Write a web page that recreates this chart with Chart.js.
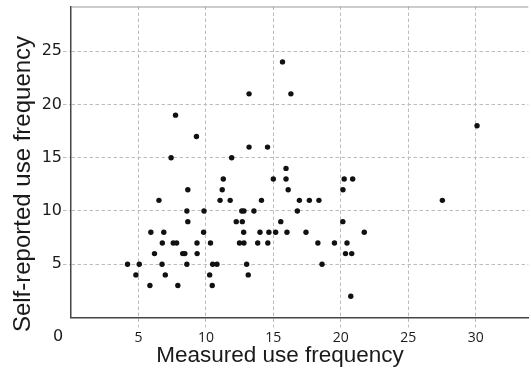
<!DOCTYPE html>
<html>
<head>
<meta charset="utf-8">
<script src="https://cdn.jsdelivr.net/npm/chart.js@4.4.1/dist/chart.umd.min.js"></script>
<style>
  html, body { margin: 0; padding: 0; background: #fff; }
  #wrap { width: 531px; height: 371px; position: relative; }
</style>
</head>
<body>
<div id="wrap"><canvas id="c"></canvas></div>
<script>
// Measured vs self-reported use frequency — one point per person
const measured = [
    20.74,
    5.85, 7.92, 10.47,
    4.81, 6.99, 10.28, 13.14,
    4.19, 5.06, 6.75, 8.59, 10.5, 10.82, 13.02, 18.61,
    6.19, 8.28, 8.44, 9.35, 20.35, 20.81,
    6.77, 7.58, 7.83, 9.34, 10.34, 12.49, 12.82, 13.84, 14.59, 18.3, 19.53, 20.46,
    5.92, 6.88, 9.83, 12.8, 14.01, 14.67, 15.17, 16.01, 17.42, 21.74,
    8.66, 12.25, 12.7, 15.55, 20.15,
    8.59, 9.86, 12.66, 12.82, 13.56, 16.78,
    6.52, 11.05, 11.8, 14.12, 16.93, 17.67, 18.38, 27.53,
    8.66, 11.21, 16.1, 20.16,
    11.29, 15.0, 15.94, 20.25, 20.88,
    15.94,
    7.42, 11.91,
    13.2, 14.57,
    9.3,
    30.1,
    7.75,
    13.2, 16.3,
    15.68
];
const selfReported = [
    2,
    3, 3, 3,
    4, 4, 4, 4,
    5, 5, 5, 5, 5, 5, 5, 5,
    6, 6, 6, 6, 6, 6,
    7, 7, 7, 7, 7, 7, 7, 7, 7, 7, 7, 7,
    8, 8, 8, 8, 8, 8, 8, 8, 8, 8,
    9, 9, 9, 9, 9,
    10, 10, 10, 10, 10, 10,
    11, 11, 11, 11, 11, 11, 11, 11,
    12, 12, 12, 12,
    13, 13, 13, 13, 13,
    14,
    15, 15,
    16, 16,
    17,
    18,
    19,
    21, 21,
    24
];
const xTicks = [5, 10, 15, 20, 25, 30];
const yTicks = [5, 10, 15, 20, 25];
const xTitle = 'Measured use frequency';
const yTitle = 'Self-reported use frequency';
const originLabel = '0';

const points = measured.map((x, i) => ({ x: x, y: selfReported[i] }));

const dash = [3.5, 2.5];

// top frame line, axis titles and the shared "0" at the corner
const decor = {
    id: 'decor',
    beforeDatasetsDraw(chart) {
        const { ctx, chartArea: a } = chart;
        ctx.save();
        ctx.strokeStyle = '#999';
        ctx.lineWidth = 1;
        ctx.beginPath();
        ctx.moveTo(a.left, a.top + 0.5);
        ctx.lineTo(a.right, a.top + 0.5);
        ctx.stroke();
        ctx.restore();
    },
    afterDraw(chart) {
        const { ctx, chartArea: a } = chart;
        ctx.save();
        ctx.fillStyle = '#1a1a1a';
        ctx.textAlign = 'center';
        ctx.textBaseline = 'middle';

        ctx.font = '16px "DejaVu Sans"';
        ctx.fillText(originLabel, a.left - 13, a.bottom + 19);

        ctx.font = '22.5px "Liberation Sans"';
        ctx.fillText(xTitle, 280, a.bottom + 38);

        ctx.font = '24px "Liberation Sans"';
        ctx.translate(23, 184);
        ctx.rotate(-Math.PI / 2);
        ctx.fillText(yTitle, 0, 0);
        ctx.restore();
    }
};

new Chart(document.getElementById('c'), {
    type: 'scatter',
    data: {
        datasets: [{
            data: points,
            backgroundColor: '#111',
            borderColor: '#111',
            borderWidth: 0,
            pointRadius: 2.7,
            pointHoverRadius: 2.7
        }]
    },
    options: {
        responsive: true,
        maintainAspectRatio: false,
        animation: false,
        layout: { padding: { top: 6.5, right: 0, bottom: 0, left: 0 } },
        plugins: {
            legend: { display: false },
            tooltip: { enabled: false }
        },
        scales: {
            x: {
                type: 'linear',
                min: 0,
                max: 33.9,
                afterBuildTicks: s => { s.ticks = xTicks.map(v => ({ value: v })); },
                afterFit: s => { s.height = 53.5; s.paddingLeft = 0; s.paddingRight = 0; },
                grid: { color: '#bdbdbd', lineWidth: 1, tickLength: 10, tickColor: '#bdbdbd', tickBorderDash: dash },
                border: { display: true, color: '#444', width: 1.5, dash: dash },
                ticks: { color: '#1a1a1a', padding: 2, font: { family: 'Open Sans', size: 14 } }
            },
            y: {
                type: 'linear',
                min: 0,
                max: 29.2,
                afterBuildTicks: s => { s.ticks = yTicks.map(v => ({ value: v })); },
                afterFit: s => { s.width = 71; s.paddingTop = 0; s.paddingBottom = 0; },
                grid: { color: '#bdbdbd', lineWidth: 1, tickLength: 8, tickColor: '#bdbdbd', tickBorderDash: dash },
                border: { display: true, color: '#444', width: 1.5, dash: dash },
                ticks: { color: '#1a1a1a', padding: 1, font: { family: 'DejaVu Sans', size: 16 } }
            }
        }
    },
    plugins: [decor]
});
</script>
</body>
</html>
